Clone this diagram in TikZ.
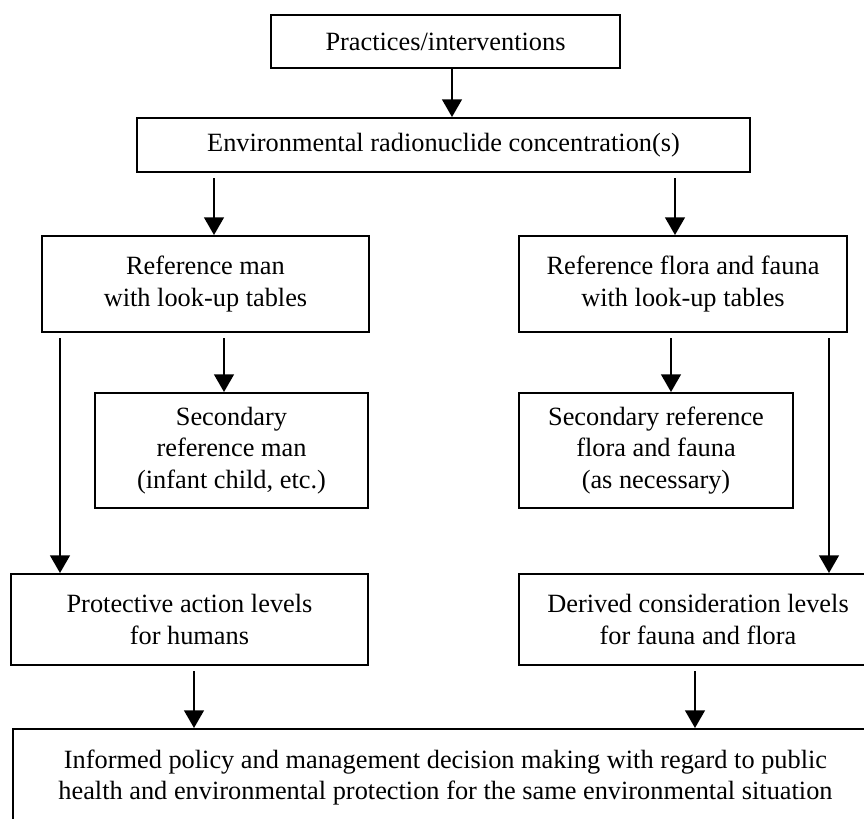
\documentclass[tikz,border=0pt]{standalone}
\usepackage{fontspec}
\setmainfont{Liberation Serif}
\usetikzlibrary{arrows.meta}

\tikzset{
  box/.style 2 args={draw, line width=0.9pt, align=center, inner sep=3pt,
    minimum width=#1*0.016cm, minimum height=#2*0.016cm,
    font=\fontsize{12pt}{14.3pt}\selectfont},
  arr/.style={-{Triangle[length=8pt,width=9pt]}, line width=0.75pt},
  gap/.style={shorten <=2.3pt}
}

\begin{document}
\begin{tikzpicture}[x=0.016cm,y=-0.016cm]
\useasboundingbox (0,0) rectangle (864,819);
\clip (0,0) rectangle (864,819);

% Kaestchen
\node[box={349}{53}]  (prac)   at (445.5,41.5) {Practices/interventions};
\node[box={613}{54}]  (env)    at (443.5,145)  {Environmental radionuclide concentration(s)};
\node[box={327}{96}]  (refMan) at (205.5,284)  {Reference man\\with look-up tables};
\node[box={328}{96}]  (refFlo) at (683,284)    {Reference flora and fauna\\with look-up tables};
\node[box={273}{115}] (secMan) at (231.5,450.5) {Secondary\\reference man\\(infant child, etc.)};
\node[box={274}{115}] (secFlo) at (656,450.5)  {Secondary reference\\flora and fauna\\(as necessary)};
\node[box={357}{91}]  (prot)   at (189.5,619.5) {Protective action levels\\for humans};
\node[box={358}{91}]  (deriv)  at (698,619.5)  {Derived consideration levels\\for fauna and flora};
\node[box={865}{0}, anchor=north west, inner ysep=9.5pt] (dec) at (12,728)
  {Informed policy and management decision making with regard to public\\
   health and environmental protection for the same environmental situation\\\mbox{}};

% Spalten der Pfeile
\coordinate (kPrac)  at (452,0);
\coordinate (kMan)   at (214,0);
\coordinate (kFlo)   at (675,0);
\coordinate (kSecM)  at (224,0);
\coordinate (kSecF)  at (671,0);
\coordinate (kProt)  at (60,0);
\coordinate (kDeriv) at (829,0);
\coordinate (kDecL)  at (194,0);
\coordinate (kDecR)  at (695,0);

\draw[arr]     (prac.south -| kPrac)   -- (env.north -| kPrac);
\draw[arr,gap] (env.south -| kMan)     -- (refMan.north -| kMan);
\draw[arr,gap] (env.south -| kFlo)     -- (refFlo.north -| kFlo);

\draw[arr,gap] (refMan.south -| kSecM) -- (secMan.north -| kSecM);
\draw[arr,gap] (refFlo.south -| kSecF) -- (secFlo.north -| kSecF);
\draw[arr,gap] (refMan.south -| kProt) -- (prot.north -| kProt);
\draw[arr,gap] (refFlo.south -| kDeriv) -- (deriv.north -| kDeriv);

\draw[arr,gap] (prot.south -| kDecL)   -- (dec.north -| kDecL);
\draw[arr,gap] (deriv.south -| kDecR)  -- (dec.north -| kDecR);

\end{tikzpicture}
\end{document}
